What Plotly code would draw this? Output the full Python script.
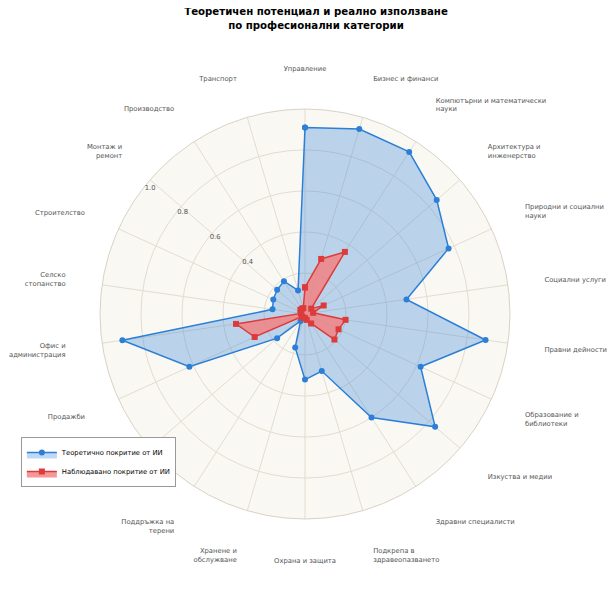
import plotly.graph_objects as go

categories = [
    "Управление",
    "Бизнес и финанси",
    "Компютърни и математически<br>науки",
    "Архитектура и<br>инженерство",
    "Природни и социални<br>науки",
    "Социални услуги",
    "Правни дейности",
    "Образование и<br>библиотеки",
    "Изкуства и медии",
    "Здравни специалисти",
    "Подкрепа в<br>здравеопазването",
    "Охрана и защита",
    "Хранене и<br>обслужване",
    "Поддръжка на<br>терени",
    "Лични грижи и услуги",
    "Продажби",
    "Офис и<br>администрация",
    "Селско<br>стопанство",
    "Строителство",
    "Монтаж и<br>ремонт",
    "Производство",
    "Транспорт",
]

theoretical = [0.91, 0.94, 0.94, 0.85, 0.77, 0.50, 0.89, 0.62, 0.84, 0.60, 0.29,
               0.32, 0.17, 0.04, 0.18, 0.62, 0.90, 0.16, 0.17, 0.18, 0.19, 0.12]
observed = [0.13, 0.28, 0.36, 0.04, 0.10, 0.04, 0.20, 0.18, 0.19, 0.055, 0.03,
            0.02, 0.02, 0.02, 0.02, 0.27, 0.34, 0.02, 0.02, 0.03, 0.03, 0.03]

radial_ticks = [0.2, 0.4, 0.6, 0.8, 1.0]
radial_labels = ["", "0.4", "0.6", "0.8", "1.0"]

# close the polygons
cats_closed = categories + categories[:1]

fig = go.Figure()
fig.add_trace(go.Scatterpolar(
    r=theoretical + theoretical[:1],
    theta=cats_closed,
    name="Теоретично покритие от ИИ",
    mode="lines+markers",
    line=dict(color="#2c7fd6", width=1.5),
    marker=dict(symbol="circle", size=6, color="#2c7fd6"),
    fill="toself",
    fillcolor="rgba(44,127,214,0.3)",
))
fig.add_trace(go.Scatterpolar(
    r=observed + observed[:1],
    theta=cats_closed,
    name="Наблюдавано покритие от ИИ",
    mode="lines+markers",
    line=dict(color="#dc3b3b", width=1.5),
    marker=dict(symbol="square", size=6, color="#dc3b3b"),
    fill="toself",
    fillcolor="rgba(245,125,125,0.8)",
))

fig.update_layout(
    width=616,
    height=615,
    margin=dict(l=92, r=114, t=101, b=104),
    paper_bgcolor="white",
    font=dict(family="DejaVu Sans", color="#555555"),
    title=dict(
        text="<b>Теоретичен потенциал и реално използване<br>по професионални категории</b>",
        x=0.5, xanchor="center", y=0.988, yanchor="top",
        font=dict(size=10.2, color="black"),
    ),
    polar=dict(
        bgcolor="#faf8f3",
        angularaxis=dict(
            direction="clockwise",
            rotation=90,
            gridcolor="#e2ddd0",
            linecolor="#d8d3c6",
            showline=True,
            ticks="outside",
            ticklen=35,
            tickcolor="rgba(0,0,0,0)",
            tickfont=dict(size=6.8, color="#555555"),
        ),
        radialaxis=dict(
            range=[0, 1.0],
            angle=142.5,
            tickangle=142.5,
            tickvals=radial_ticks,
            ticktext=radial_labels,
            showline=False,
            ticks="",
            gridcolor="#e2ddd0",
            tickfont=dict(size=6.8, color="#555555"),
        ),
    ),
    legend=dict(
        x=-0.193, y=0.2, xanchor="left", yanchor="top",
        bgcolor="white",
        bordercolor="#999999",
        borderwidth=1,
        itemwidth=30,
        font=dict(size=6.8, color="black"),
    ),
)

fig.write_html("out.html")
